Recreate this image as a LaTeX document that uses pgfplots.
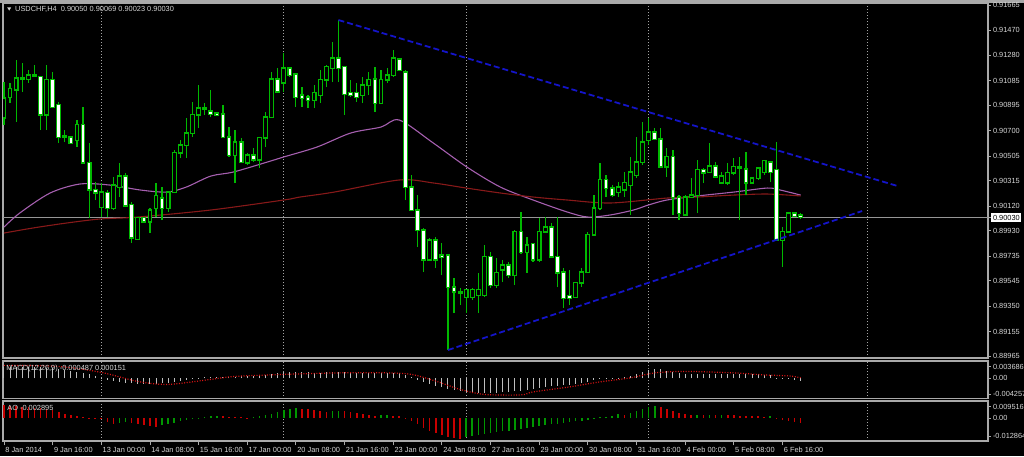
\documentclass[border=0pt]{standalone}
\usepackage{pgfplots}
\pgfplotsset{compat=1.18}
\usepackage{pgfplotstable}
\usepackage{fontspec}
\setmainfont{Liberation Sans}

\definecolor{frame}{RGB}{170,170,170}
\definecolor{txt}{RGB}{215,215,215}
\definecolor{wick}{RGB}{0,185,0}
\definecolor{ma1}{RGB}{165,95,175}
\definecolor{ma2}{RGB}{135,25,25}
\definecolor{trend}{RGB}{20,20,200}
\definecolor{griddot}{RGB}{165,165,165}
\definecolor{aogreen}{RGB}{0,150,0}
\definecolor{aored}{RGB}{200,0,0}
\definecolor{macdgray}{RGB}{190,190,190}
\definecolor{sigred}{RGB}{220,20,20}

% USDCHF H4 candles: bar, open, high, low, close
\pgfplotstableread{
i o h l c
0 0.90797 0.91073 0.90743 0.90950
1 0.90958 0.91066 0.90912 0.91020
2 0.91012 0.91242 0.90766 0.91104
3 0.91104 0.91220 0.90997 0.91096
4 0.91096 0.91165 0.91066 0.91127
5 0.91127 0.91204 0.91112 0.91120
6 0.91112 0.91120 0.90704 0.90820
7 0.90820 0.91204 0.90704 0.91089
8 0.91089 0.91150 0.90873 0.90881
9 0.90897 0.90920 0.90604 0.90650
10 0.90658 0.90704 0.90612 0.90650
11 0.90650 0.90658 0.90597 0.90604
12 0.90627 0.90781 0.90574 0.90743
13 0.90743 0.90881 0.90443 0.90451
14 0.90451 0.90604 0.90028 0.90243
15 0.90243 0.90304 0.90166 0.90220
16 0.90112 0.90297 0.90035 0.90227
17 0.90220 0.90243 0.90035 0.90104
18 0.90104 0.90343 0.90089 0.90281
19 0.90266 0.90451 0.90189 0.90350
20 0.90350 0.90374 0.90112 0.90120
21 0.90128 0.90151 0.89835 0.89874
22 0.89866 0.90035 0.89858 0.90028
23 0.90028 0.90035 0.89990 0.89997
24 0.89997 0.90104 0.89912 0.90089
25 0.90104 0.90297 0.90035 0.90197
26 0.90181 0.90266 0.90012 0.90104
27 0.90104 0.90235 0.90074 0.90227
28 0.90227 0.90551 0.90220 0.90528
29 0.90528 0.90627 0.90489 0.90589
30 0.90589 0.90797 0.90489 0.90681
31 0.90681 0.90920 0.90650 0.90820
32 0.90820 0.91050 0.90720 0.90873
33 0.90873 0.90912 0.90820 0.90866
34 0.90850 0.91012 0.90804 0.90827
35 0.90835 0.90843 0.90812 0.90820
36 0.90827 0.90897 0.90643 0.90650
37 0.90650 0.90727 0.90497 0.90512
38 0.90512 0.90704 0.90297 0.90612
39 0.90612 0.90643 0.90451 0.90458
40 0.90451 0.90528 0.90435 0.90512
41 0.90512 0.90566 0.90458 0.90474
42 0.90474 0.90650 0.90412 0.90643
43 0.90643 0.90843 0.90574 0.90804
44 0.90804 0.91150 0.90797 0.91096
45 0.91096 0.91181 0.90989 0.90997
46 0.91066 0.91296 0.90997 0.91181
47 0.91181 0.91189 0.91112 0.91127
48 0.91135 0.91142 0.90881 0.90958
49 0.90973 0.91035 0.90881 0.90950
50 0.90958 0.90973 0.90873 0.90935
51 0.90935 0.91050 0.90873 0.90989
52 0.90973 0.91165 0.90912 0.91089
53 0.91089 0.91204 0.91035 0.91189
54 0.91181 0.91381 0.91073 0.91258
55 0.91258 0.91550 0.91073 0.91181
56 0.91189 0.91195 0.90820 0.90981
57 0.90989 0.91089 0.90958 0.90973
58 0.90989 0.91066 0.90920 0.90958
59 0.90973 0.91112 0.90912 0.91050
60 0.91050 0.91150 0.90973 0.91089
61 0.91096 0.91189 0.90843 0.90912
62 0.90912 0.91165 0.90904 0.91089
63 0.91089 0.91181 0.91066 0.91127
64 0.91127 0.91319 0.91112 0.91258
65 0.91250 0.91258 0.91158 0.91165
66 0.91150 0.91165 0.90166 0.90266
67 0.90266 0.90358 0.90081 0.90089
68 0.90089 0.90204 0.89805 0.89935
69 0.89935 0.89951 0.89612 0.89705
70 0.89705 0.89874 0.89697 0.89858
71 0.89858 0.89881 0.89643 0.89705
72 0.89743 0.89835 0.89589 0.89728
73 0.89743 0.89750 0.89012 0.89497
74 0.89497 0.89566 0.89297 0.89459
75 0.89459 0.89489 0.89359 0.89451
76 0.89420 0.89480 0.89297 0.89474
77 0.89420 0.89489 0.89397 0.89474
78 0.89435 0.89605 0.89297 0.89474
79 0.89435 0.89820 0.89420 0.89728
80 0.89728 0.89766 0.89489 0.89512
81 0.89512 0.89720 0.89489 0.89605
82 0.89628 0.89705 0.89535 0.89666
83 0.89666 0.89689 0.89566 0.89589
84 0.89589 0.89935 0.89512 0.89920
85 0.89920 0.90074 0.89751 0.89766
86 0.89766 0.89881 0.89605 0.89820
87 0.89828 0.89835 0.89689 0.89705
88 0.89705 0.90028 0.89689 0.89920
89 0.89920 0.90035 0.89912 0.89958
90 0.89958 0.89989 0.89720 0.89728
91 0.89728 0.90035 0.89497 0.89605
92 0.89612 0.89643 0.89336 0.89412
93 0.89428 0.89628 0.89359 0.89412
94 0.89420 0.89535 0.89412 0.89528
95 0.89528 0.89643 0.89497 0.89612
96 0.89612 0.89920 0.89605 0.89897
97 0.89897 0.90204 0.89890 0.90104
98 0.90104 0.90451 0.90089 0.90320
99 0.90320 0.90358 0.90189 0.90258
100 0.90258 0.90281 0.90189 0.90204
101 0.90227 0.90304 0.90189 0.90266
102 0.90243 0.90381 0.90189 0.90297
103 0.90281 0.90497 0.90051 0.90381
104 0.90358 0.90650 0.90335 0.90458
105 0.90458 0.90766 0.90435 0.90612
106 0.90627 0.90797 0.90589 0.90689
107 0.90689 0.90720 0.90627 0.90635
108 0.90635 0.90720 0.90412 0.90420
109 0.90420 0.90566 0.90343 0.90497
110 0.90497 0.90551 0.90051 0.90189
111 0.90189 0.90204 0.90012 0.90066
112 0.90051 0.90204 0.90043 0.90189
113 0.90189 0.90335 0.90181 0.90204
114 0.90204 0.90474 0.90066 0.90397
115 0.90397 0.90412 0.90297 0.90374
116 0.90381 0.90604 0.90374 0.90427
117 0.90427 0.90458 0.90335 0.90343
118 0.90297 0.90381 0.90289 0.90350
119 0.90297 0.90451 0.90281 0.90374
120 0.90374 0.90489 0.90358 0.90420
121 0.90420 0.90497 0.90012 0.90412
122 0.90404 0.90535 0.90204 0.90297
123 0.90297 0.90343 0.90289 0.90335
124 0.90335 0.90420 0.90320 0.90412
125 0.90381 0.90474 0.90358 0.90466
126 0.90458 0.90466 0.90304 0.90381
127 0.90397 0.90612 0.89851 0.89858
128 0.89858 0.89958 0.89651 0.89920
129 0.89920 0.90074 0.89912 0.90066
130 0.90066 0.90074 0.90035 0.90043
131 0.90050 0.90069 0.90023 0.90030
}\candles

% MACD main line (histogram)
\pgfplotstableread{
i v
0 0.00233
1 0.00233
2 0.00233
3 0.00233
4 0.00233
5 0.00233
6 0.00233
7 0.00212
8 0.00212
9 0.00191
10 0.00170
11 0.00148
12 0.00127
13 0.00106
14 0.00085
15 0.00042
16 0.00003
17 -0.00042
18 -0.00064
19 -0.00085
20 -0.00106
21 -0.00106
22 -0.00127
23 -0.00127
24 -0.00127
25 -0.00127
26 -0.00106
27 -0.00106
28 -0.00085
29 -0.00064
30 -0.00042
31 -0.00021
32 0.00003
33 0.00021
34 0.00021
35 0.00021
36 0.00021
37 0.00021
38 0.00021
39 0.00042
40 0.00042
41 0.00042
42 0.00064
43 0.00064
44 0.00085
45 0.00106
46 0.00127
47 0.00127
48 0.00127
49 0.00127
50 0.00127
51 0.00106
52 0.00106
53 0.00127
54 0.00127
55 0.00127
56 0.00127
57 0.00106
58 0.00106
59 0.00106
60 0.00106
61 0.00106
62 0.00106
63 0.00106
64 0.00106
65 0.00106
66 0.00064
67 0.00021
68 -0.00042
69 -0.00085
70 -0.00127
71 -0.00170
72 -0.00191
73 -0.00233
74 -0.00254
75 -0.00276
76 -0.00297
77 -0.00318
78 -0.00318
79 -0.00318
80 -0.00318
81 -0.00318
82 -0.00297
83 -0.00297
84 -0.00276
85 -0.00276
86 -0.00254
87 -0.00233
88 -0.00212
89 -0.00191
90 -0.00170
91 -0.00170
92 -0.00148
93 -0.00148
94 -0.00127
95 -0.00106
96 -0.00085
97 -0.00042
98 -0.00021
99 0.00003
100 0.00003
101 0.00003
102 0.00021
103 0.00042
104 0.00085
105 0.00127
106 0.00170
107 0.00191
108 0.00191
109 0.00148
110 0.00127
111 0.00106
112 0.00085
113 0.00085
114 0.00085
115 0.00085
116 0.00085
117 0.00085
118 0.00085
119 0.00085
120 0.00085
121 0.00085
122 0.00085
123 0.00085
124 0.00085
125 0.00064
126 0.00064
127 0.00003
128 -0.00021
129 -0.00021
130 -0.00042
131 -0.00049
}\macd

\pgfplotsset{
  mt4/.style={
    scale only axis, width=492.5pt, xmin=-0.16, xmax=161.8,
    axis line style={frame, line width=0.7pt},
    tick align=outside, major tick length=1.5pt,
    xtick={16,46,76,106,142}, xticklabels={}, xtick pos=bottom,
    xtick style={draw=none},
    xmajorgrids, major x grid style={griddot, line width=0.45pt, dash pattern=on 0.5pt off 1pt},
    ytick pos=right, yticklabel pos=right,
    ytick style={frame, line width=0.4pt},
    scaled y ticks=false,
    ticklabel style={font=\fontsize{3.7}{4}\selectfont, text=txt, inner sep=0.8pt},
    /pgf/number format/assume math mode=true,
  },
}

\begin{document}
\begin{tikzpicture}
\fill[black] (0,0) rectangle (512pt,-228pt);
\path[use as bounding box] (0,0) rectangle (512pt,-228pt);
\fill[frame] (0,0) rectangle (512pt,-1.3pt);

% ---- price panel
\begin{axis}[mt4, at={(1.5pt,-1.5pt)}, anchor=north west, height=177.5pt,
  ymin=0.88951, ymax=0.91681,
  ytick={0.91665,0.91470,0.91280,0.91085,0.90895,0.90700,0.90505,0.90315,0.90120,0.89930,0.89735,0.89545,0.89350,0.89155,0.88965},
  yticklabels={0.91665,0.91470,0.91280,0.91085,0.90895,0.90700,0.90505,0.90315,0.90120,0.89930,0.89735,0.89545,0.89350,0.89155,0.88965},
  extra y ticks={0.90030}, extra y tick labels={0.90030},
  extra y tick style={yticklabel style={fill=white, text=black}},
]
\addplot[color={rgb,255:red,150;green,150;blue,150}, line width=0.5pt] coordinates {(-1,0.90030) (163,0.90030)};
% moving averages
\addplot[ma1, line width=0.55pt, smooth] coordinates {
 (0,0.89958) (2.6,0.90066) (7.6,0.90220) (12.5,0.90289) (17.4,0.90281) (22.4,0.90243)
 (26.8,0.90227) (30,0.90266) (34,0.90350) (37.7,0.90381) (43.3,0.90458) (46,0.90497)
 (51.5,0.90574) (57,0.90681) (62,0.90727) (65,0.90781) (70.6,0.90604) (76.1,0.90420)
 (81.6,0.90266) (87,0.90166) (92.6,0.90074) (96,0.90035) (99.7,0.90051) (103.5,0.90089)
 (106,0.90128) (109,0.90166) (114,0.90197) (120,0.90227) (125.5,0.90258) (127.6,0.90243) (131,0.90204)};
\addplot[ma2, line width=0.55pt, smooth] coordinates {
 (0,0.89912) (4.8,0.89951) (10.3,0.89989) (15.8,0.90020) (22,0.90035) (34,0.90089)
 (46,0.90166) (48.7,0.90189) (54.3,0.90227) (65,0.90320) (70.6,0.90297) (76,0.90258)
 (81.6,0.90220) (87,0.90189) (92.6,0.90166) (99.7,0.90143) (109,0.90181) (114,0.90189)
 (120,0.90204) (125.5,0.90212) (131,0.90197)};
% candles: wicks, body outlines, body fills
\addplot[wick, line width=0.6pt, quiver={u=0, v=\thisrow{h}-\thisrow{l}}] table[x=i, y=l] {\candles};
\addplot[wick, line width=2.4pt, quiver={u=0, v=\thisrow{c}-\thisrow{o},
  every arrow/.append style={shorten <=-0.3pt, shorten >=-0.3pt}}] table[x=i, y=o] {\candles};
\addplot[black, line width=1.3pt, quiver={u=0, v=\thisrow{c}-\thisrow{o},
  every arrow/.append style={shorten <=0.25pt, shorten >=0.25pt}},
  restrict expr to domain={\thisrow{c}-\thisrow{o}}{0.0001:1}] table[x=i, y=o] {\candles};
\addplot[white, line width=1.3pt, quiver={u=0, v=\thisrow{c}-\thisrow{o},
  every arrow/.append style={shorten <=0.25pt, shorten >=0.25pt}},
  restrict expr to domain={\thisrow{c}-\thisrow{o}}{-1:-0.0001}] table[x=i, y=o] {\candles};
% triangle trend lines
\addplot[trend, line width=0.9pt, dash pattern=on 3pt off 1.5pt] coordinates {(55,0.91550) (146.9,0.90274)};
\addplot[trend, line width=0.9pt, dash pattern=on 3pt off 1.5pt] coordinates {(73,0.89012) (141.1,0.90081)};
\end{axis}

% ---- MACD panel
\begin{axis}[mt4, at={(1.5pt,-180.5pt)}, anchor=north west, height=18.75pt,
  ymin=-0.004257, ymax=0.003686,
  ytick={0.00252,0,-0.00337}, yticklabels={0.003686,0.00,-0.004257},
]
\addplot[ycomb, macdgray, line width=0.5pt] table[x=i, y=v] {\macd};
\addplot[sigred, line width=0.6pt, dash pattern=on 0.5pt off 0.8pt, smooth] coordinates {
 (0,0.00276) (9,0.00254) (16,0.00127) (22,-0.00064) (27,-0.00127) (34,-0.00021) (38,0.00042)
 (46,0.00085) (55,0.00117) (63,0.00117) (67,0.00085) (71,-0.00057) (75,-0.00233) (79,-0.00339)
 (85,-0.00350) (87,-0.00286) (93,-0.00180) (98,-0.00074) (103,0.00011) (107,0.00117)
 (112,0.00148) (120,0.00117) (125,0.00074) (129,0.00053) (131,0.00015)};
\node[anchor=west, inner sep=0pt, font=\fontsize{3.7}{4}\selectfont, text=txt] at (rel axis cs:0.003,0.80) {MACD(12,26,9) -0.000487 0.000151};
\end{axis}

% ---- Awesome Oscillator panel
\begin{axis}[mt4, at={(1.5pt,-200.5pt)}, anchor=north west, height=20pt,
  ymin=-0.012864, ymax=0.009516,
  ytick={0.00638,0,-0.01007}, yticklabels={0.009516,0.00,-0.012864},
  extra x ticks={0,8,16,24,32,40,48,56,64,72,80,88,96,104,112,120,128},
  extra x tick labels={8 Jan 2014,9 Jan 16:00,13 Jan 00:00,14 Jan 08:00,15 Jan 16:00,17 Jan 00:00,20 Jan 08:00,21 Jan 16:00,23 Jan 00:00,24 Jan 08:00,27 Jan 16:00,29 Jan 00:00,30 Jan 08:00,31 Jan 16:00,4 Feb 00:00,5 Feb 08:00,6 Feb 16:00},
  extra x tick style={grid=none, major tick length=2.2pt,
    xtick style={draw=frame, line width=0.4pt},
    xticklabel style={anchor=west, yshift=-2.4pt, xshift=0.2pt, inner sep=0.3pt}},
]
\addplot[ycomb, aored, line width=0.8pt] coordinates {
 (0,0.00728) (1,0.00700) (2,0.00672) (3,0.00644) (4,0.00616) (5,0.00588) (6,0.00560) (7,0.00504)
 (8,0.00448) (9,0.00336) (10,0.00224) (11,0.00168) (12,0.00112) (13,0.00056) (14,0.00028) (15,0.00011)
 (16,-0.00056) (17,-0.00224) (18,-0.00336) (21,-0.00280) (22,-0.00336) (23,-0.00392) (24,-0.00448) (25,-0.00476)
 (36,0.00112) (37,0.00084) (38,0.00056) (39,0.00045) (40,0.00028)
 (49,0.00532) (50,0.00504) (51,0.00448) (52,0.00392) (53,0.00364)
 (56,0.00392) (57,0.00336) (58,0.00280) (59,0.00224) (60,0.00168) (61,0.00140)
 (64,0.00140) (65,0.00112) (66,0.00017) (67,-0.00168) (68,-0.00336) (69,-0.00560) (70,-0.00728)
 (71,-0.00840) (72,-0.00952) (73,-0.01064) (74,-0.01120) (75,-0.01148)
 (102,0.00196) (108,0.00616) (109,0.00504) (110,0.00392) (111,0.00280) (112,0.00224) (113,0.00168)
 (115,0.00168) (117,0.00168) (119,0.00168) (120,0.00157) (121,0.00140) (122,0.00123) (123,0.00112)
 (124,0.00101) (125,0.00084) (127,0.00028) (128,-0.00112) (129,-0.00168) (130,-0.00224) (131,-0.00290)};
\addplot[ycomb, aogreen, line width=0.8pt] coordinates {
 (19,-0.00280) (20,-0.00224) (26,-0.00392) (27,-0.00336) (28,-0.00252) (29,-0.00168) (30,-0.00112)
 (31,-0.00056) (32,0.00028) (33,0.00056) (34,0.00112) (35,0.00140)
 (41,0.00056) (42,0.00112) (43,0.00168) (44,0.00224) (45,0.00336) (46,0.00448) (47,0.00504) (48,0.00560)
 (54,0.00392) (55,0.00420) (62,0.00151) (63,0.00168)
 (76,-0.01064) (77,-0.01008) (78,-0.00952) (79,-0.00896) (80,-0.00840) (81,-0.00784) (82,-0.00728)
 (83,-0.00700) (84,-0.00672) (85,-0.00616) (86,-0.00560) (87,-0.00504) (88,-0.00448) (89,-0.00392)
 (90,-0.00336) (91,-0.00308) (92,-0.00280) (93,-0.00224) (94,-0.00168) (95,-0.00140) (96,-0.00084)
 (97,0.00017) (98,0.00056) (99,0.00084) (100,0.00140) (101,0.00224)
 (103,0.00280) (104,0.00392) (105,0.00504) (106,0.00616) (107,0.00672)
 (114,0.00179) (116,0.00185) (118,0.00179) (126,0.00090)};
\node[anchor=west, inner sep=0pt, font=\fontsize{3.7}{4}\selectfont, text=txt] at (rel axis cs:0.004,0.82) {AO -0.002895};
\end{axis}

\fill[txt] (3.6pt,-3.7pt) -- (5.6pt,-3.7pt) -- (4.6pt,-5.3pt) -- cycle;
\node[anchor=west, inner sep=0pt, font=\fontsize{3.7}{4}\selectfont, text=txt] at (7.4pt,-4.6pt) {USDCHF,H4\ \ 0.90050 0.90069 0.90023 0.90030};
\end{tikzpicture}
\end{document}
